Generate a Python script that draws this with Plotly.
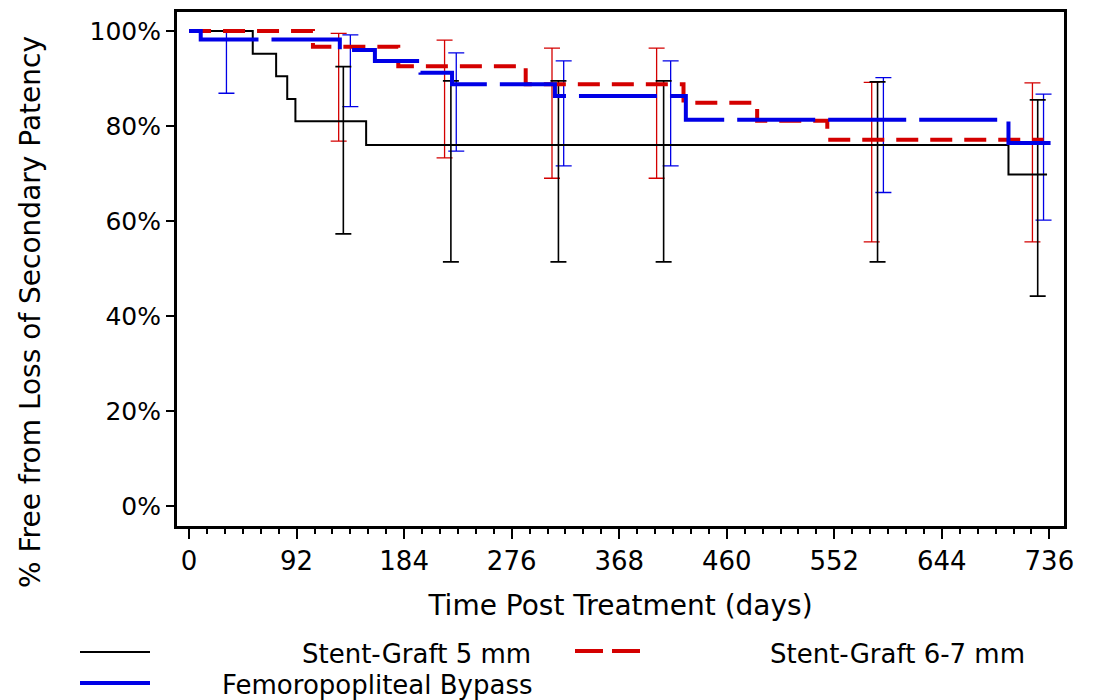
import plotly.graph_objects as go

# ---- Kaplan-Meier step data (days, % free) ----
sg5_days = [0, 54.5, 74.5, 84, 91, 151.5, 701, 734]
sg5_pct = [100, 95.2, 90.5, 85.7, 81.0, 76.0, 69.8, 69.8]

sg67_days = [0, 106, 179, 288, 423, 486, 546, 731]
sg67_pct = [100, 96.7, 92.6, 88.8, 84.9, 81.1, 77.1, 77.1]

fpb_days = [0, 10, 129, 159, 198, 225, 313, 425, 701, 737]
fpb_pct = [100, 98.2, 96.0, 93.7, 91.2, 88.8, 86.3, 81.3, 76.4, 76.4]

# ---- confidence intervals ----
sg5_ci_days = [132, 224, 316, 406, 589, 726]
sg5_ci_mid = [81.0, 76.0, 76.0, 76.0, 76.0, 69.8]
sg5_ci_hi = [92.5, 89.5, 89.5, 89.5, 89.3, 85.5]
sg5_ci_lo = [57.3, 51.4, 51.4, 51.4, 51.4, 44.2]

sg67_ci_days = [128, 218.6, 310.5, 400, 584, 721.5]
sg67_ci_mid = [96.7, 92.6, 88.8, 88.8, 77.1, 77.1]
sg67_ci_hi = [99.5, 98.1, 96.4, 96.4, 89.2, 89.1]
sg67_ci_lo = [76.8, 73.3, 69.0, 69.0, 55.6, 55.6]

fpb_ci_days = [32, 138, 228.6, 320.5, 412, 594, 731]
fpb_ci_mid = [98.2, 96.0, 88.8, 86.3, 86.3, 81.3, 76.4]
fpb_ci_hi = [100, 99.2, 95.4, 93.7, 93.7, 90.2, 86.7]
fpb_ci_lo = [86.9, 84.1, 74.7, 71.6, 71.6, 66.0, 60.2]

x_ticks = [0, 92, 184, 276, 368, 460, 552, 644, 736]
y_ticks = [0, 20, 40, 60, 80, 100]

names = ["Stent-Graft 5 mm", "Stent-Graft 6-7 mm", "Femoropopliteal Bypass"]
x_title = "Time Post Treatment (days)"
y_title = "% Free from Loss of Secondary Patency"

BLACK = "#000000"
RED = "#d40000"
BLUE = "#0000e6"
FONT = "DejaVu Sans"

fig = go.Figure()


def ci_trace(xs, mid, hi, lo, color, w):
    return go.Scatter(
        x=xs, y=mid, mode="markers", showlegend=False, hoverinfo="skip",
        marker=dict(size=1, color="rgba(0,0,0,0)"),
        error_y=dict(type="data", symmetric=False,
                     array=[h - m for h, m in zip(hi, mid)],
                     arrayminus=[m - l for m, l in zip(mid, lo)],
                     color=color, thickness=w, width=8),
    )


fig.add_trace(ci_trace(sg67_ci_days, sg67_ci_mid, sg67_ci_hi, sg67_ci_lo, RED, 1.3))
fig.add_trace(ci_trace(fpb_ci_days, fpb_ci_mid, fpb_ci_hi, fpb_ci_lo, BLUE, 1.3))
fig.add_trace(ci_trace(sg5_ci_days, sg5_ci_mid, sg5_ci_hi, sg5_ci_lo, BLACK, 1.6))

fig.add_trace(go.Scatter(x=sg5_days, y=sg5_pct, mode="lines", name=names[0],
                         line=dict(color=BLACK, width=2, shape="hv"), showlegend=False))
fig.add_trace(go.Scatter(x=sg67_days, y=sg67_pct, mode="lines", name=names[1],
                         line=dict(color=RED, width=4, shape="hv", dash="22px,12px"),
                         showlegend=False))
fig.add_trace(go.Scatter(x=fpb_days, y=fpb_pct, mode="lines", name=names[2],
                         line=dict(color=BLUE, width=4, shape="hv", dash="78px,13px"),
                         showlegend=False))

# page offset (body margin) = 8px; plot area in screen pixels
OFF = 8
SL, W, ST, H = 177, 887, 12, 514
L, T = SL - OFF, ST - OFF
FW, FH = 1094, 692


def px_x(p):
    return (p - SL) / W


def px_y(p):
    return (ST + H - p) / H


legend_items = [
    (80, 150, 652, BLACK, 2, "solid", 533, 654, names[0]),
    (575, 640, 651, RED, 4, "28px,9px", 1027, 654, names[1]),
    (80, 150, 683, BLUE, 4, "solid", 535, 685, names[2]),
]
for x0, x1, yy, col, lw, dash, tx, ty, label in legend_items:
    fig.add_shape(type="line", xref="paper", yref="paper",
                  x0=px_x(x0), x1=px_x(x1), y0=px_y(yy), y1=px_y(yy),
                  line=dict(color=col, width=lw, dash=dash))
    fig.add_annotation(xref="paper", yref="paper", x=px_x(tx), y=px_y(ty),
                       xanchor="right", yanchor="middle", showarrow=False,
                       text=label, font=dict(family=FONT, size=26, color=BLACK))

# y axis title placed like the reference (lower than plot centre)
fig.add_annotation(xref="paper", yref="paper", x=px_x(31), y=px_y(312),
                   xanchor="center", yanchor="middle", showarrow=False,
                   textangle=-90, text=y_title,
                   font=dict(family=FONT, size=28, color=BLACK))

fig.update_layout(
    width=FW, height=FH,
    margin=dict(l=L, r=FW - L - W, t=T, b=FH - T - H, autoexpand=False),
    paper_bgcolor="white", plot_bgcolor="white",
    font=dict(family=FONT, color=BLACK),
    showlegend=False,
)
fig.update_xaxes(
    range=[-10.3, 748.5], tickvals=x_ticks, ticktext=[str(v) for v in x_ticks],
    ticks="outside", ticklen=10, tickwidth=2, tickcolor=BLACK,
    minor=dict(dtick=92 / 6, tick0=0, ticks="outside", ticklen=5, tickwidth=1.5,
               tickcolor=BLACK, showgrid=False),
    showline=True, linewidth=3, linecolor=BLACK, mirror=True,
    showgrid=False, zeroline=False,
    tickfont=dict(family=FONT, size=26, color=BLACK),
    title=dict(text=x_title, standoff=21,
               font=dict(family=FONT, size=28, color=BLACK)),
)
fig.update_yaxes(
    range=[-4.2, 104.0], tickvals=y_ticks, ticktext=[f"{v}%" for v in y_ticks],
    ticks="outside", ticklen=8, tickwidth=2, tickcolor=BLACK,
    showline=True, linewidth=3, linecolor=BLACK, mirror=True,
    showgrid=False, zeroline=False,
    tickfont=dict(family=FONT, size=25, color=BLACK),
)

fig.write_html("out.html")
